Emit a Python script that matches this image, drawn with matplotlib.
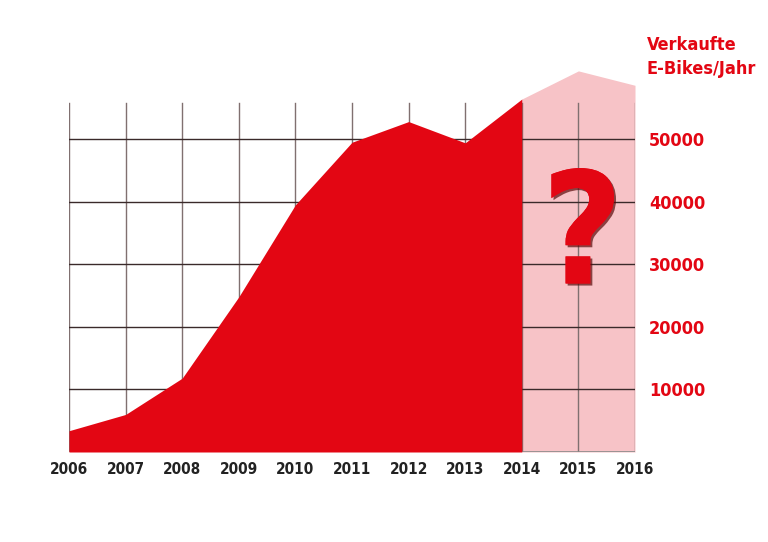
import matplotlib.pyplot as plt
import matplotlib.patheffects as pe

# Verkaufte E-Bikes pro Jahr
years = [2006, 2007, 2008, 2009, 2010, 2011, 2012, 2013, 2014]
sales = [3400, 6000, 11800, 24800, 39500, 49500, 52800, 49400, 56400]

forecast_years = [2014, 2015, 2016]
forecast_sales = [56400, 60900, 58600]

grid_years = list(range(2006, 2017))
y_ticks = [10000, 20000, 30000, 40000, 50000]
grid_top = 55800

RED = "#e30613"
PINK = "#f7c3c7"
COND = dict(family="DejaVu Sans", fontstretch="condensed", fontweight="bold")

fig = plt.figure(figsize=(7.68, 5.42), dpi=100)
ax = fig.add_axes([69 / 768, 90 / 542, 566 / 768, 388 / 542])
ax.set_xlim(2006, 2016)
ax.set_ylim(0, 62000)

# forecast band, then grid, then the measured area on top
ax.fill_between(forecast_years, 0, forecast_sales, color=PINK, lw=0, zorder=1)
for yr in grid_years:
    ax.plot([yr, yr], [0, grid_top], color="#807070", lw=1.0, zorder=2)
for v in y_ticks:
    ax.plot([2006, 2016], [v, v], color="#3a2a2a", lw=1.0, zorder=2)
ax.plot([2006, 2016], [0, 0], color="#8a8a8a", lw=1.2, zorder=2)
ax.fill_between(years, 0, sales, color=RED, lw=0, zorder=3)

ax.text(2015.07, 33800, "?", color=RED, fontsize=112, ha="center", va="center", zorder=4,
        path_effects=[pe.withSimplePatchShadow(offset=(1.5, -1.5), shadow_rgbFace="#5a0a0a", alpha=0.7),
                      pe.Normal()], **COND)

ax.set_xticks(grid_years)
ax.set_xticklabels([str(y) for y in grid_years], fontsize=11, color="#222222", **COND)
ax.tick_params(axis="x", length=0, pad=7)

ax.yaxis.tick_right()
ax.set_yticks(y_ticks)
ax.set_yticklabels([str(v) for v in y_ticks], fontsize=13, color=RED, **COND)
ax.tick_params(axis="y", length=0, pad=10)

for s in ax.spines.values():
    s.set_visible(False)

fig.text(647 / 768, 1 - 36 / 542, "Verkaufte\nE-Bikes/Jahr", color=RED, fontsize=13,
         ha="left", va="top", linespacing=1.45, **COND)

fig.savefig("out.png", dpi=100)
